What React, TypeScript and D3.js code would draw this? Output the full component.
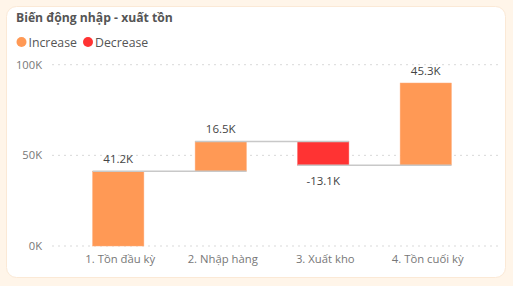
import React from "react";
import * as d3 from "d3";

const categories = ["1. Tồn đầu kỳ", "2. Nhập hàng", "3. Xuất kho", "4. Tồn cuối kỳ"];
const values = [41.2, 16.5, -13.1, 45.3];
const labels = ["41.2K", "16.5K", "-13.1K", "45.3K"];
const yTicks = [0, 50, 100];
const yTickLabels = ["0K", "50K", "100K"];

const W = 513;
const H = 286;
const INC = "#FF9955";
const DEC = "#FF3333";

export default function App() {
  const x = d3.scaleBand<string>().domain(categories).range([67, 477]).paddingInner(0.5).paddingOuter(0.25);
  const y = d3.scaleLinear().domain([0, 100]).range([246, 64.7]);
  let cum = 0;
  const bars = values.map((v, i) => {
    const start = cum;
    cum += v;
    return { cat: categories[i], start, end: cum, v, label: labels[i] };
  });
  const bw = x.bandwidth();
  const font = "'Segoe UI', 'Open Sans', 'Noto Sans', sans-serif";
  return (
    <svg width={W} height={H} style={{ position: "absolute", left: 0, top: 0 }} fontFamily={font}>
      <rect x={0} y={0} width={W} height={H} fill="#FFF5E9" />
      <rect x={6.5} y={6.5} width={499} height={271} rx={10} fill="#FFFFFF" stroke="#FBE9D6" />
      <text x={16} y={22} fontSize={12.2} fontWeight={700} fill="#555555">Biến động nhập - xuất tồn</text>
      <circle cx={21.5} cy={42} r={5} fill={INC} />
      <text x={28.5} y={46.5} fontSize={12.3} fill="#555555">Increase</text>
      <circle cx={88} cy={42} r={5} fill={DEC} />
      <text x={95} y={46.5} fontSize={12.3} fill="#555555">Decrease</text>
      {yTicks.map((t, i) => (
        <g key={t}>
          <line x1={52} x2={498} y1={y(t)} y2={y(t)} stroke="#D9D9D9" strokeDasharray="2,4" />
          <text x={42} y={y(t) + 4} textAnchor="end" fontSize={11.2} fill="#777777">{yTickLabels[i]}</text>
        </g>
      ))}
      {bars.map((b) => {
        const top = y(Math.max(b.start, b.end));
        const bottom = y(Math.min(b.start, b.end));
        return (
          <rect key={b.cat} x={x(b.cat)} y={top} width={bw} height={bottom - top} fill={b.v >= 0 ? INC : DEC} stroke={b.v >= 0 ? "#FFAA77" : "#FF5555"} strokeWidth={0.5} />
        );
      })}
      {bars.slice(0, -1).map((b, i) => {
        const next = bars[i + 1];
        return (
          <line key={"c" + i} x1={x(b.cat)!} x2={x(next.cat)! + bw} y1={y(b.end)} y2={y(b.end)} stroke="#C8C8C8" strokeWidth={1.5} />
        );
      })}
      {bars.map((b) => {
        const cx = x(b.cat)! + bw / 2;
        const ty = b.v >= 0 ? y(b.end) - 8 : y(b.end) + 20;
        return (
          <text key={"l" + b.cat} x={cx} y={ty} textAnchor="middle" fontSize={11.5} fill="#444444">{b.label}</text>
        );
      })}
      {categories.map((c) => (
        <text key={"x" + c} x={x(c)! + bw / 2 + 2} y={263} textAnchor="middle" fontSize={11.3} fill="#777777">{c}</text>
      ))}
    </svg>
  );
}
